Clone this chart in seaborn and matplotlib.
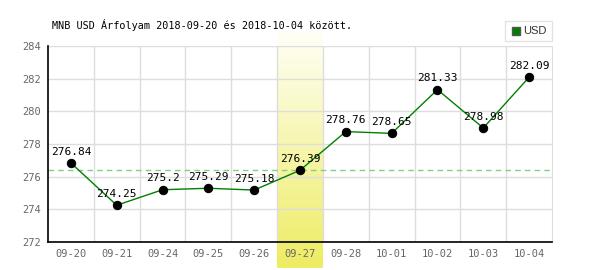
import numpy as np
import pandas as pd
import matplotlib
matplotlib.use("Agg")
import matplotlib.pyplot as plt
import seaborn as sns
from matplotlib.lines import Line2D

dates = ["09-20", "09-21", "09-24", "09-25", "09-26", "09-27",
         "09-28", "10-01", "10-02", "10-03", "10-04"]
usd = [276.84, 274.25, 275.2, 275.29, 275.18, 276.39,
       278.76, 278.65, 281.33, 278.98, 282.09]
ref_date = "09-27"
ref_value = 276.39
title = "MNB USD Árfolyam 2018-09-20 és 2018-10-04 között."

sns.set_style("white")
plt.rcParams["font.family"] = ["DejaVu Sans Mono"]

df = pd.DataFrame({"date": dates, "usd": usd})

fig = plt.figure(figsize=(6, 2.7), dpi=100)
ax = fig.add_axes([48/600, 1-242/270, 504/600, 196/270])

# highlight gradient column
ref_i = dates.index(ref_date)
grad = np.linspace(0, 1, 256)[:, None, None]
top = np.array([1.0, 1.0, 0.97])
bot = np.array([238/255, 236/255, 98/255])
img = top * (1 - grad) + bot * grad
ax.imshow(img, extent=(ref_i - 0.5, ref_i + 0.5, 270.4, 284.9),
          aspect="auto", origin="upper", zorder=0, clip_on=False)

sns.lineplot(data=df, x="date", y="usd", ax=ax, color="#008000",
             linewidth=1, marker="o", markersize=6,
             markerfacecolor="black", markeredgecolor="black", zorder=3,
             sort=False)
ax.axhline(ref_value, color="#88cc88", linestyle=(0, (4, 3)), linewidth=1, zorder=1)

for i, v in enumerate(usd):
    ax.annotate(f"{v:g}", (i, v), xytext=(0, 4.5), textcoords="offset points",
                ha="center", va="bottom", fontsize=8, color="black", zorder=4)

ax.set_xlim(-0.5, len(dates) - 0.5)
ax.set_ylim(272, 284)
ax.set_yticks(np.arange(272, 285, 2))
ax.set_xticks(range(len(dates)))
ax.set_xticklabels(dates)
ax.set_xticks(np.arange(0.5, len(dates) - 0.5, 1), minor=True)
ax.set_axisbelow(True)
ax.grid(axis="y", which="major", color="#dddddd", linewidth=1)
ax.grid(axis="x", which="minor", color="#dddddd", linewidth=1)
ax.grid(axis="x", which="major", visible=False)
ax.tick_params(axis="both", which="both", length=0, labelsize=7.5, colors="#666666", pad=5)
ax.set_xlabel("")
ax.set_ylabel("")

for s in ["left", "bottom"]:
    ax.spines[s].set_color("black")
    ax.spines[s].set_linewidth(1.2)
ax.spines["top"].set_visible(False)
ax.spines["right"].set_color("#dddddd")

handle = Line2D([], [], marker="s", linestyle="none", markersize=6,
                markerfacecolor="#008000", markeredgecolor="#555555")
leg = ax.legend([handle], ["USD"], loc="upper right", bbox_to_anchor=(1.0, 1.125),
                borderaxespad=0, frameon=True, fancybox=False, handletextpad=0.2,
                borderpad=0.45, handlelength=1.0,
                prop={"family": "Liberation Sans", "size": 8})
leg.get_frame().set_edgecolor("#dddddd")
leg.get_frame().set_linewidth(1)
for t in leg.get_texts():
    t.set_color("#333333")

fig.text(52/600, 1-25/270, title, ha="left", va="center", fontsize=7.3, color="black")

fig.savefig("out.png", dpi=100)
